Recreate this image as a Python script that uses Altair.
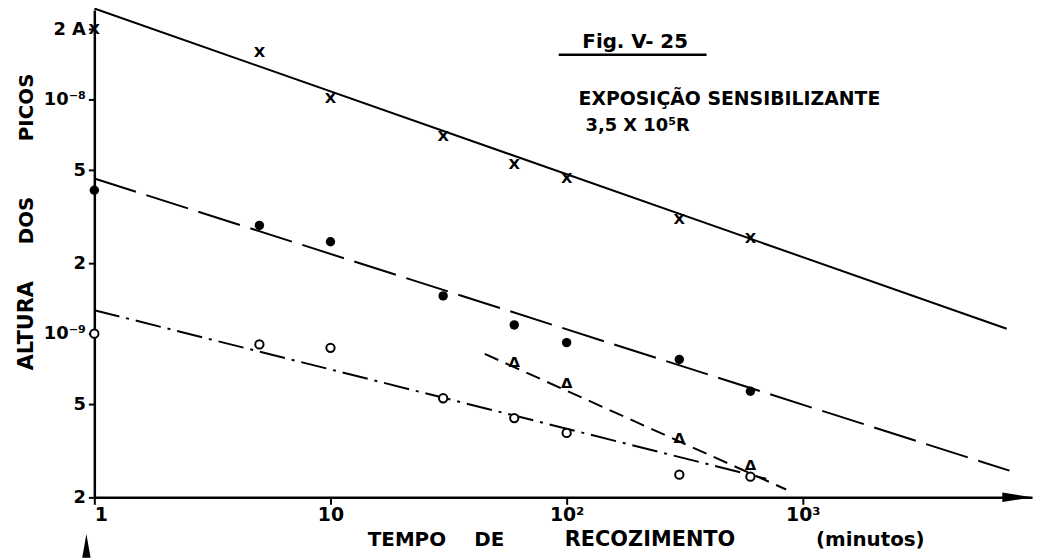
import altair as alt
import pandas as pd

# ---------------- data ----------------
t_all = [1, 5, 10, 30, 60, 100, 300, 600]
cross_v = [2.0e-8, 1.6e-8, 1.02e-8, 7.0e-9, 5.3e-9, 4.6e-9, 3.1e-9, 2.55e-9]
dot_v = [4.1e-9, 2.9e-9, 2.47e-9, 1.45e-9, 1.09e-9, 0.916e-9, 0.776e-9, 0.568e-9]
circ_v = [1.0e-9, 0.90e-9, 0.87e-9, 0.53e-9, 0.436e-9, 0.377e-9, 0.25e-9, 0.245e-9]
tri_t = [60, 100, 300, 600]
tri_v = [0.754e-9, 0.614e-9, 0.359e-9, 0.276e-9]

# hand-drawn straight lines (end points)
cross_line_t = [1, 7300]
cross_line_v = [2.45e-8, 1.05e-9]
dot_line_t = [1, 7500]
dot_line_v = [4.6e-9, 2.6e-10]
circ_line_t = [1, 700]
circ_line_v = [1.26e-9, 0.24e-9]
tri_line_t = [45, 850]
tri_line_v = [0.82e-9, 0.216e-9]

y_ticks = [2e-10, 5e-10, 1e-9, 2e-9, 5e-9, 1e-8, 2e-8]
x_ticks = [1, 10, 100, 1000]

FONT = "DejaVu Sans"
W, H = 945, 491

df = lambda t, v: pd.DataFrame({"t": t, "v": v})

x_enc = alt.X(
    "t:Q",
    scale=alt.Scale(type="log", domain=[1, 9350], nice=False, zero=False),
    axis=alt.Axis(
        values=x_ticks, title=None, grid=False,
        labelExpr="datum.value < 5 ? '1' : datum.value < 50 ? '10' : datum.value < 500 ? '10²' : '10³'",
        labelFont=FONT, labelFontWeight="bold", labelFontSize=19, labelColor="black",
        domainColor="black", domainWidth=2.5, tickColor="black", tickWidth=2, tickSize=7,
        labelPadding=1,
    ),
)
y_enc = alt.Y(
    "v:Q",
    scale=alt.Scale(type="log", domain=[2e-10, 2.41e-8], nice=False, zero=False),
    axis=alt.Axis(
        values=y_ticks, title=None, grid=False,
        labelExpr=("datum.value > 1.5e-8 ? '2 A' : datum.value > 8e-9 ? '10⁻⁸' : "
                   "datum.value > 4e-9 ? '5' : datum.value > 1.5e-9 ? '2' : "
                   "datum.value > 8e-10 ? '10⁻⁹' : datum.value > 4e-10 ? '5' : '2'"),
        labelFont=FONT, labelFontWeight="bold", labelFontSize=18, labelColor="black",
        domainColor="black", domainWidth=2.5, tickColor="black", tickWidth=2, tickSize=6,
        labelPadding=3,
    ),
)

def line(t, v, dash):
    m = alt.Chart(df(t, v)).mark_line(color="black", strokeWidth=2,
                                      **({"strokeDash": dash} if dash else {}))
    return m.encode(x=x_enc, y=y_enc)

layers = [
    line(cross_line_t, cross_line_v, None),
    line(dot_line_t, dot_line_v, [44, 11]),
    line(circ_line_t, circ_line_v, [26, 7, 3, 7]),
    line(tri_line_t, tri_line_v, [15, 8]),
    alt.Chart(df(t_all, cross_v)).mark_text(text="X", font=FONT, fontWeight="bold",
                                           fontSize=15, color="black").encode(x=x_enc, y=y_enc),
    alt.Chart(df(t_all, dot_v)).mark_point(shape="circle", filled=True, size=90,
                                          color="black", opacity=1).encode(x=x_enc, y=y_enc),
    alt.Chart(df(t_all, circ_v)).mark_point(shape="circle", filled=True, size=70,
                                           fill="white", stroke="black", strokeWidth=2,
                                           opacity=1).encode(x=x_enc, y=y_enc),
    alt.Chart(df(tri_t, tri_v)).mark_text(text="Δ", font=FONT, fontWeight="bold",
                                         fontSize=15, color="black").encode(x=x_enc, y=y_enc),
]

one = pd.DataFrame({"k": [0]})

def label(txt, x, y, size=18, angle=0, align="center"):
    return alt.Chart(one).mark_text(
        text=txt, font=FONT, fontWeight="bold", fontSize=size, color="black",
        angle=angle, align=align, baseline="middle",
    ).encode(x=alt.value(x), y=alt.value(y))

annotations = [
    label("Fig. V- 25", 545, 32, 20),
    label("EXPOSIÇÃO  SENSIBILIZANTE", 488, 90, 19, align="left"),
    label("3,5 X 10⁵R", 495, 117, 18, align="left"),
    label("PICOS", -68, 98, 20, angle=270),
    label("DOS", -68, 212, 20, angle=270),
    label("ALTURA", -68, 318, 21, angle=270),
    label("TEMPO", 315, 534, 20),
    label("DE", 398, 534, 20),
    label("RECOZIMENTO", 560, 534, 21),
    label("(minutos)", 782, 534, 20),
]

underline = alt.Chart(one).mark_rule(color="black", strokeWidth=2.5).encode(
    x=alt.value(468), x2=alt.value(617), y=alt.value(45))

arrow = alt.Chart(one).mark_point(
    shape="M -1 -0.32 L 1 0 L -1 0.32 Z", filled=True, size=900, color="black", opacity=1
).encode(x=alt.value(W - 15), y=alt.value(H))

# small ink wedge below the origin in the scanned original
wedge = alt.Chart(one).mark_point(
    shape="M 0 -1 L 0.35 1 L -0.35 1 Z", filled=True, size=576, color="black", opacity=1
).encode(x=alt.value(-8), y=alt.value(540))

chart = alt.layer(*layers, *annotations, underline, arrow, wedge).properties(
    width=W, height=H,
    autosize=alt.AutoSizeParams(type="none"),
    padding={"left": 87, "top": 0, "right": 7, "bottom": 60},
    background="white",
).configure_view(stroke=None)

chart.save("out.html", embed_options={"renderer": "svg", "actions": False})
